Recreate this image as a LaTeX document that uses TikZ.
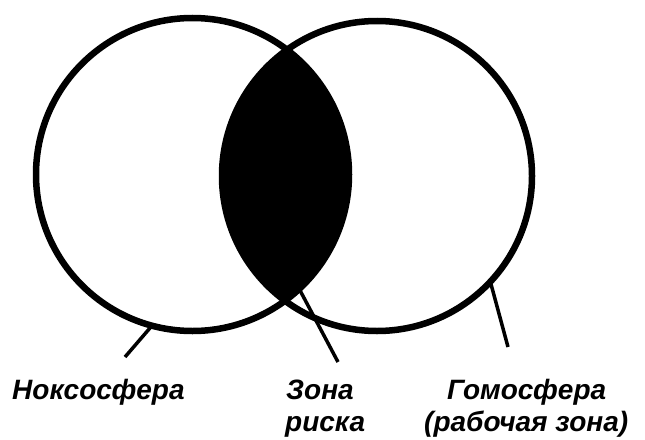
\documentclass[tikz,border=0pt]{standalone}
\usepackage{fontspec}
\setmainfont{Liberation Sans}
\begin{document}
\begin{tikzpicture}[x=1pt,y=-1pt,
  ring/.style={circle,draw=black,line width=6.5pt,inner sep=0pt,outer sep=0pt},
  leader/.style={draw=black,line width=3.5pt},
  lbl/.style={anchor=base west,inner sep=0pt,font=\fontsize{28}{30}\selectfont\bfseries\itshape}]
\useasboundingbox (0,0) rectangle (645,439);
\fill[white] (0,0) rectangle (645,439);
% lens
\begin{scope}
  \clip (192.5,174.5) circle (156.5pt);
  \fill[black] (377,176) circle (155pt);
\end{scope}
\node[ring,minimum size=313pt] (L) at (192.5,174.5) {};
\node[ring,minimum size=310pt] (R) at (377,176) {};
% labels
\node[lbl] (nox) at (12,399) {Ноксосфера};
\node[lbl] (zona1) at (286,399) {Зона};
\node[lbl] (zona2) at (285,431) {риска};
\node[lbl] (gomo1) at (447,399) {Гомосфера};
\node[lbl] (gomo2) at (424,431) {(рабочая зона)};
% leader ends
\coordinate (nE) at (125,357);
\coordinate (zE) at (338,362);
\coordinate (gE) at (508,347);
\draw[leader] (L.255.4) -- (nE);
\draw[leader] (L.-47) -- (zE);
\draw[leader] (R.-43.4) -- (gE);
\end{tikzpicture}
\end{document}
